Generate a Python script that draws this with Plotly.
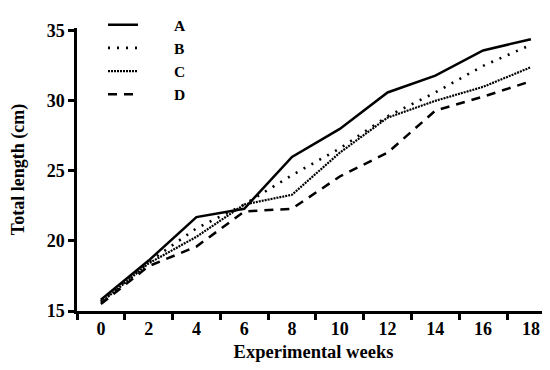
import plotly.graph_objects as go

weeks = ["0", "2", "4", "6", "8", "10", "12", "14", "16", "18"]
series_a = [15.8, 18.6, 21.7, 22.3, 26.0, 28.0, 30.6, 31.8, 33.6, 34.4]
series_b = [15.7, 18.5, 20.9, 22.6, 24.7, 26.6, 28.9, 30.6, 32.5, 34.0]
series_c = [15.6, 18.4, 20.3, 22.6, 23.3, 26.3, 28.8, 30.0, 31.0, 32.4]
series_d = [15.5, 18.2, 19.6, 22.1, 22.3, 24.6, 26.3, 29.3, 30.3, 31.4]
y_ticks = [15, 20, 25, 30, 35]

font_family = "Liberation Serif"

styles = [
    ("A", series_a, dict(color="black", width=2.5, dash="solid")),
    ("B", series_b, dict(color="black", width=2.6, dash="2px,7px")),
    ("C", series_c, dict(color="black", width=2.2, dash="2px,1px")),
    ("D", series_d, dict(color="black", width=2.5, dash="9px,7px")),
]

fig = go.Figure()
for name, vals, line in styles:
    fig.add_trace(go.Scatter(
        x=weeks, y=vals, mode="lines", name="        <b>" + name + "</b>",
        line=line,
    ))

bold = lambda s: "<b>" + str(s) + "</b>"

fig.update_layout(
    width=542, height=362,
    margin=dict(l=69, r=0, t=4, b=59),
    paper_bgcolor="white", plot_bgcolor="white",
    font=dict(family=font_family, color="black", size=16),
    showlegend=True,
    legend=dict(
        x=0.055, y=1.07, xanchor="left", yanchor="top",
        bgcolor="rgba(0,0,0,0)", borderwidth=0,
        font=dict(family=font_family, size=15.5, color="black"),
        tracegroupgap=0, itemwidth=30,
    ),
    xaxis=dict(
        type="category", range=[-0.5, 9.4], automargin=False,
        tickvals=weeks, ticktext=[bold(w) for w in weeks],
        showline=True, linecolor="black", linewidth=2.5,
        ticks="outside", ticklen=6, tickwidth=2.5, tickcolor="black",
        tickson="boundaries", showgrid=False, zeroline=False,
        tickfont=dict(family=font_family, size=18, color="black"),
        title=dict(text="<b>Experimental weeks</b>", standoff=7,
                   font=dict(family=font_family, size=18.5, color="black")),
    ),
    yaxis=dict(
        range=[15, 35.2], tickvals=y_ticks, ticktext=[bold(v) for v in y_ticks],
        automargin=False,
        showline=True, linecolor="black", linewidth=2.5,
        ticks="outside", ticklen=6, tickwidth=2.5, tickcolor="black",
        showgrid=False, zeroline=False,
        tickfont=dict(family=font_family, size=18, color="black"),
        title=dict(text="<b>Total length (cm)</b>", standoff=18,
                   font=dict(family=font_family, size=18, color="black")),
    ),
)

fig.write_html("out.html")
